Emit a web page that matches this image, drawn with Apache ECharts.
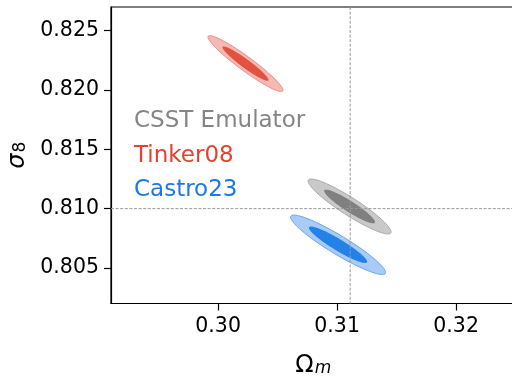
<!DOCTYPE html>
<html><head><meta charset="utf-8">
<script src="https://cdn.jsdelivr.net/npm/echarts@6/dist/echarts.min.js"></script>
<style>html,body{margin:0;padding:0;background:#fff}#c{width:512px;height:382px}</style>
</head><body><div id="c"></div>
<script>
// ---- data ----
const models = ['CSST Emulator', 'Tinker08', 'Castro23'];
const omegaM = [0.31105, 0.3023, 0.31008];        // contour centres
const sigma8 = [0.81018, 0.82223, 0.80695];
const sigOmegaM = [0.001406, 0.001271, 0.001610]; // 1-sigma widths
const sigSigma8 = [0.000934, 0.000951, 0.001012];
const corr = [-0.925, -0.95, -0.93];              // correlation coefficients
const contourLevels = [2.48, 1.52];               // 95% and 68% 2D radii
const xTicks = [0.30, 0.31, 0.32];
const yTicks = [0.805, 0.810, 0.815, 0.820, 0.825];
const refOmegaM = [0.3111];
const refSigma8 = [0.810];

// ---- styles ----
const fillOuter = ['#c9c9c9', '#f5b8b2', '#a9cbf6'];
const edgeOuter = ['#a9a9a9', '#ee8d84', '#62a6f2'];
const fillInner = ['#808080', '#e4513f', '#2381e8'];
const legendColors = ['#858585', '#e5412f', '#1b78e6'];
const FONT = 'DejaVu Sans';

function makeRender(m) {
  return function (params, api) {
    const cx = api.value(0), cy = api.value(1), k = api.value(2);
    const sx = sigOmegaM[m], sy = sigSigma8[m], r = corr[m];
    const pts = [];
    const N = 160;
    for (let i = 0; i < N; i++) {
      const t = 2 * Math.PI * i / N;
      const u = Math.cos(t), v = Math.sin(t);
      pts.push(api.coord([cx + k * sx * u, cy + k * sy * (r * u + Math.sqrt(1 - r * r) * v)]));
    }
    const outer = params.dataIndex === 0;
    return {
      type: 'polygon',
      shape: { points: pts },
      style: outer
        ? { fill: fillOuter[m], stroke: edgeOuter[m], lineWidth: 1 }
        : { fill: fillInner[m], stroke: null }
    };
  };
}

const series = models.map((name, m) => ({
  type: 'custom',
  name: name,
  renderItem: makeRender(m),
  data: contourLevels.map(k => [omegaM[m], sigma8[m], k]),
  silent: true,
  z: 2
}));
series.push({
  type: 'custom', name: 'ref', silent: true, z: 5,
  data: refOmegaM.map((v, i) => [v, refSigma8[i]]),
  renderItem: function (params, api) {
    const cs = params.coordSys;
    const p = api.coord([api.value(0), api.value(1)]);
    const st = { stroke: '#9a9a9a', lineWidth: 1, lineDash: [3, 1.6], fill: null };
    return {
      type: 'group', children: [
        { type: 'line', shape: { x1: p[0], y1: cs.y, x2: p[0], y2: cs.y + cs.height }, style: st },
        { type: 'line', shape: { x1: cs.x, y1: p[1], x2: cs.x + cs.width, y2: p[1] }, style: st }
      ]
    };
  }
});

const chart = echarts.init(document.getElementById('c'), null, { renderer: 'canvas' });
chart.setOption({
  animation: false,
  backgroundColor: '#fff',
  grid: { left: 111, top: 7, width: 404.6, height: 296.5, show: true, borderColor: '#000', borderWidth: 1.2, backgroundColor: 'transparent', containLabel: false, outerBoundsMode: 'none' },
  legend: {
    orient: 'vertical', left: 124, top: 105, itemWidth: 0, itemHeight: 0, itemGap: 11.2,
    selectedMode: false,
    data: models.map((n, i) => ({ name: n, icon: 'rect', textStyle: { color: legendColors[i] } })),
    textStyle: { fontFamily: FONT, fontSize: 23, lineHeight: 23 }
  },
  xAxis: {
    type: 'value', min: 0.291, max: 0.325,
    axisLine: { show: true, onZero: false, lineStyle: { color: '#000', width: 1.2 } },
    axisTick: { show: true, customValues: xTicks, length: 7, lineStyle: { color: '#000', width: 1.2 } },
    axisLabel: { customValues: xTicks, formatter: v => v.toFixed(2), fontSize: 20.5, color: '#000', fontFamily: FONT, margin: 13 },
    splitLine: { show: false },
    name: '{a|Ω}{b|m}', nameLocation: 'middle', nameGap: 50,
    nameTextStyle: { rich: { a: { fontSize: 24, fontFamily: FONT, color: '#000' }, b: { fontSize: 17, fontStyle: 'italic', fontFamily: FONT, color: '#000', padding: [6, 0, 0, 1] } } }
  },
  yAxis: {
    type: 'value', min: 0.802, max: 0.827,
    axisLine: { show: true, onZero: false, lineStyle: { color: '#000', width: 1.2 } },
    axisTick: { show: true, customValues: yTicks, length: 7, lineStyle: { color: '#000', width: 1.2 } },
    axisLabel: { customValues: yTicks, formatter: v => v.toFixed(3), fontSize: 20.5, color: '#000', fontFamily: FONT, margin: 12 },
    splitLine: { show: false },
    name: '{a|σ}{b|8}', nameLocation: 'middle', nameGap: 80, nameRotate: 90,
    nameTextStyle: { rich: { a: { fontSize: 24, fontStyle: 'italic', fontFamily: FONT, color: '#000' }, b: { fontSize: 17, fontFamily: FONT, color: '#000', padding: [6, 0, 0, 1] } } }
  },
  series: series
});
</script></body></html>
